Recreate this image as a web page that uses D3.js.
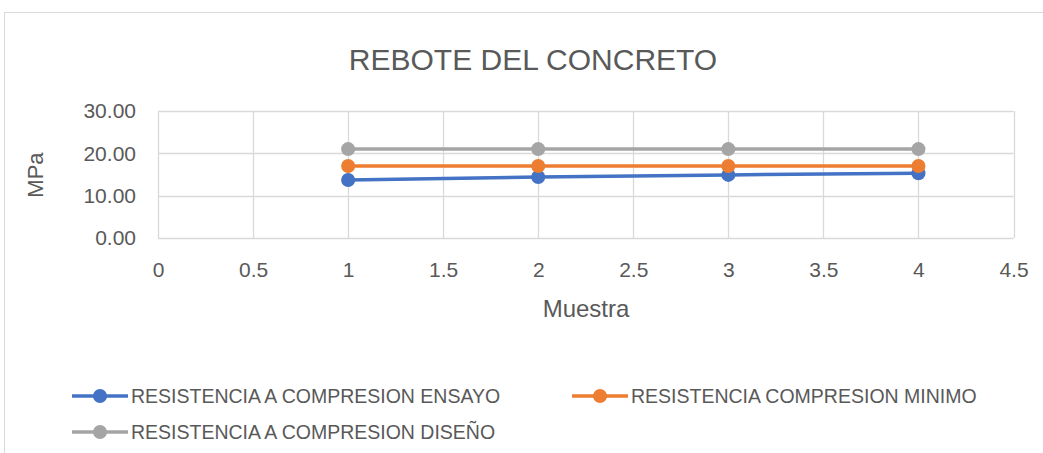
<!DOCTYPE html>
<html><head><meta charset="utf-8">
<script src="https://cdn.jsdelivr.net/npm/d3@7"></script>
<style>body{margin:0;background:#fff}svg{display:block}text{font-family:"Liberation Sans",Arial,sans-serif;fill:#595959}</style>
</head><body><svg id="c" width="1043" height="453"></svg>
<script>
const samples = [1, 2, 3, 4];
const ensayo = [13.7, 14.4, 14.9, 15.3];
const minimo = [17, 17, 17, 17];
const diseno = [21, 21, 21, 21];
const xTicks = [0, 0.5, 1, 1.5, 2, 2.5, 3, 3.5, 4, 4.5];
const yTicks = [0, 10, 20, 30];
const seriesNames = ["RESISTENCIA A COMPRESION ENSAYO", "RESISTENCIA COMPRESION MINIMO", "RESISTENCIA A COMPRESION DISEÑO"];
const colors = ["#4472C4", "#ED7D31", "#A5A5A5"];
const title = "REBOTE DEL CONCRETO";

const svg = d3.select("#c");
svg.append("rect").attr("x",4.5).attr("y",12.5).attr("width",1050).attr("height",460)
  .attr("fill","#fff").attr("stroke","#d9d9d9");

const x = d3.scaleLinear().domain([0,4.5]).range([158,1013.5]);
const y = d3.scaleLinear().domain([0,30]).range([238,111]);

// gridlines
const g = svg.append("g");
g.selectAll(".vx").data(xTicks).join("line")
  .attr("x1",d=>Math.round(x(d))+0.5).attr("x2",d=>Math.round(x(d))+0.5)
  .attr("y1",y(30)).attr("y2",y(0)).attr("stroke","#d9d9d9").attr("stroke-width",1.3);
g.selectAll(".hy").data(yTicks).join("line")
  .attr("x1",x(0)).attr("x2",x(4.5))
  .attr("y1",d=>Math.round(y(d))+0.5).attr("y2",d=>Math.round(y(d))+0.5)
  .attr("stroke","#d9d9d9").attr("stroke-width",1.3);

// axes via d3
const xAxis = d3.axisBottom(x).tickValues(xTicks).tickSize(0).tickPadding(24).tickFormat(d=>String(d));
const yAxis = d3.axisLeft(y).tickValues(yTicks).tickSize(0).tickPadding(22).tickFormat(d3.format(".2f"));
const gx = svg.append("g").attr("transform",`translate(0,${y(0)})`).call(xAxis);
const gy = svg.append("g").attr("transform",`translate(${x(0)},0)`).call(yAxis);
[gx,gy].forEach(a=>{a.select(".domain").remove(); a.selectAll("text").style("font-size","21px").attr("fill","#595959").style("font-family","'Liberation Sans',sans-serif");});

// series
const all = [ensayo, minimo, diseno];
const line = d3.line().x((d,i)=>x(samples[i])).y(d=>y(d));
all.forEach((vals,k)=>{
  svg.append("path").datum(vals).attr("d",line).attr("fill","none")
    .attr("stroke",colors[k]).attr("stroke-width",3.5).attr("stroke-linecap","round");
  svg.selectAll(null).data(vals).join("circle")
    .attr("cx",(d,i)=>x(samples[i])).attr("cy",d=>y(d)).attr("r",7).attr("fill",colors[k]);
});

// title & axis titles
svg.append("text").attr("x",533).attr("y",70).attr("text-anchor","middle")
  .style("font-size","30px").text(title);
svg.append("text").attr("x",586).attr("y",317).attr("text-anchor","middle")
  .style("font-size","24px").text("Muestra");
svg.append("text").attr("transform","translate(43,175) rotate(-90)").attr("text-anchor","middle")
  .style("font-size","22px").text("MPa");

// legend
const legPos = [[72,396],[572,396],[72,432]];
seriesNames.forEach((n,k)=>{
  const [lx,ly] = legPos[k];
  svg.append("line").attr("x1",lx).attr("x2",lx+56).attr("y1",ly).attr("y2",ly)
    .attr("stroke",colors[k]).attr("stroke-width",3.5);
  svg.append("circle").attr("cx",lx+28).attr("cy",ly).attr("r",7).attr("fill",colors[k]);
  svg.append("text").attr("x",lx+59).attr("y",ly+7).style("font-size","19.5px").text(n);
});
</script></body></html>
